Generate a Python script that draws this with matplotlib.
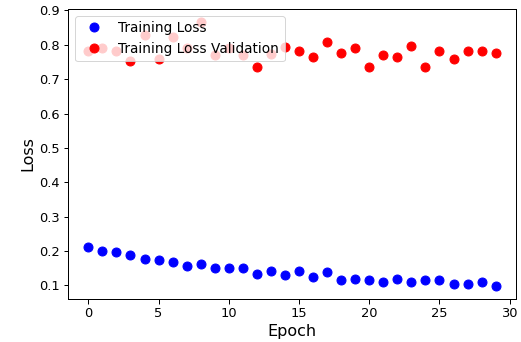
import numpy as np
import matplotlib
matplotlib.use("Agg")
import matplotlib.pyplot as plt

epochs = list(range(30))
train_loss = [0.212, 0.199, 0.196, 0.188, 0.176, 0.173, 0.169, 0.157, 0.162, 0.150,
              0.150, 0.150, 0.134, 0.142, 0.130, 0.142, 0.126, 0.138, 0.115, 0.118,
              0.115, 0.111, 0.118, 0.111, 0.115, 0.115, 0.103, 0.103, 0.111, 0.099]
val_loss = [0.783, 0.790, 0.783, 0.754, 0.829, 0.759, 0.824, 0.790, 0.866, 0.771,
            0.790, 0.771, 0.736, 0.774, 0.795, 0.783, 0.764, 0.807, 0.775, 0.791,
            0.736, 0.771, 0.764, 0.796, 0.736, 0.783, 0.760, 0.783, 0.783, 0.775]

fig = plt.figure(figsize=(521 / 72, 342 / 72), dpi=72)
ax = fig.add_axes([68 / 521, 1 - 299 / 342, (516 - 68) / 521, (299 - 9) / 342])

ax.plot(epochs, train_loss, 'bo', markersize=9, label='Training Loss')
ax.plot(epochs, val_loss, 'ro', markersize=9, label='Training Loss Validation')

ax.set_xlabel('Epoch', fontsize=16)
ax.set_ylabel('Loss', fontsize=16)
ax.tick_params(labelsize=13, length=4.5, width=1)
for s in ax.spines.values():
    s.set_linewidth(1)
ax.legend(loc='upper left', fontsize=13.6)

fig.savefig('out.png', dpi=72)
